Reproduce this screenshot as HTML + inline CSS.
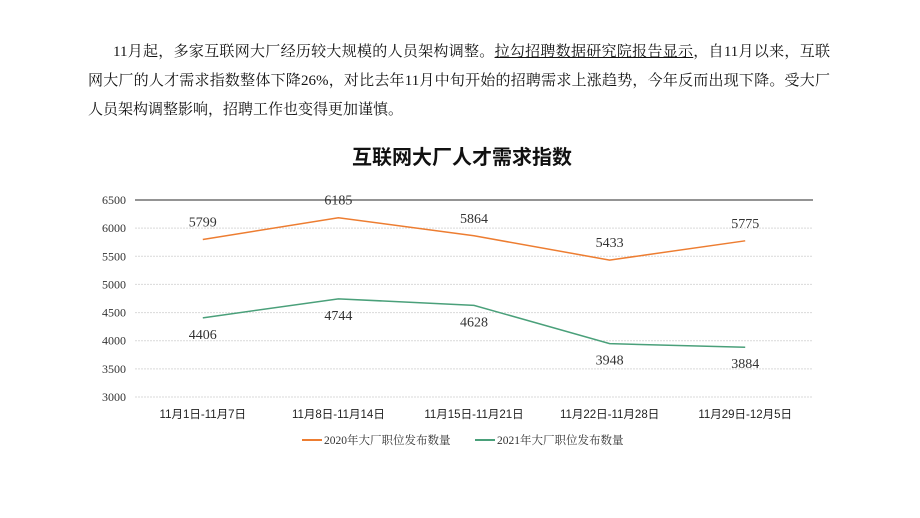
<!DOCTYPE html>
<html><head><meta charset="utf-8">
<style>
body{margin:0;width:920px;height:518px;background:#fff;overflow:hidden;font-family:"Liberation Serif","Noto Serif CJK SC",serif;}
.p{position:absolute;left:88px;width:742px;font-size:15px;color:#111;line-height:20px;}
.j{text-align:justify;text-align-last:justify;}
</style></head><body>
<div class="p j" style="top:42px;left:113px;width:717px">11月起，多家互联网大厂经历较大规模的人员架构调整。<span style="text-decoration:underline">拉勾招聘数据研究院报告显示</span>，自11月以来，互联</div>
<div class="p j" style="top:71px">网大厂的人才需求指数整体下降26%，对比去年11月中旬开始的招聘需求上涨趋势，今年反而出现下降。受大厂</div>
<div class="p" style="top:100px">人员架构调整影响，招聘工作也变得更加谨慎。</div>
<svg id="c" width="920" height="518" style="position:absolute;left:0;top:0"></svg>
<script>
const categories=["11月1日-11月7日","11月8日-11月14日","11月15日-11月21日","11月22日-11月28日","11月29日-12月5日"];
const series2020=[5799,6185,5864,5433,5775];
const series2021=[4406,4744,4628,3948,3884];
const yTicks=[3000,3500,4000,4500,5000,5500,6000,6500];
const seriesNames=["2020年大厂职位发布数量","2021年大厂职位发布数量"];
const svg=document.getElementById('c');const NS='http://www.w3.org/2000/svg';
function mk(t,a,txt){const e=document.createElementNS(NS,t);for(const k in a)e.setAttribute(k,a[k]);if(txt!=null)e.textContent=txt;svg.appendChild(e);return e;}
const L=135,R=813,T=200,B=397;
const y=v=>B-(v-3000)/(3500)*(B-T);
const x=i=>L+(i+0.5)*(R-L)/categories.length;
let t=mk('text',{x:462,y:164,'text-anchor':'middle','font-size':20,'font-weight':'bold','font-family':'"Liberation Sans","Noto Sans CJK SC",sans-serif',fill:'#111'},'互联网大厂人才需求指数');

yTicks.forEach(v=>{
 const top=v===6500;
 let g=mk('line',{x1:L,x2:R,y1:y(v),y2:y(v),stroke:top?'#555':'#d9d9d9','stroke-width':top?1.2:1,'stroke-dasharray':top?'':'2,1'});
 
 let l=mk('text',{x:126,y:y(v)+4,'text-anchor':'end','font-size':12,fill:'#333'},v);
 
});
categories.forEach((c,i)=>{
 let l=mk('text',{x:x(i),y:418,'text-anchor':'middle','font-size':11.5,'font-family':'"Liberation Sans","Noto Sans CJK SC",sans-serif',fill:'#222'},c);
 
});
function draw(data,color,name,above){
 let p=mk('polyline',{points:data.map((v,i)=>x(i)+','+y(v)).join(' '),fill:'none',stroke:color,'stroke-width':1.5});
 
 data.forEach((v,i)=>{
  const dy=above(i)?-13:21;
  let l=mk('text',{x:x(i),y:y(v)+dy,'text-anchor':'middle','font-size':14,fill:'#333'},v);
  
 });
}
draw(series2020,'#ed7d31','line-2020',()=>true);
draw(series2021,'#4aa07a','line-2021',()=>false);
const lg=[[302,'#ed7d31'],[475,'#4aa07a']];
lg.forEach((d,i)=>{
 let a=mk('line',{x1:d[0],x2:d[0]+20,y1:440,y2:440,stroke:d[1],'stroke-width':2});
 
 let b=mk('text',{x:d[0]+22,y:444,'font-size':11.5,fill:'#333'},seriesNames[i]);
 
});
</script>
</body></html>
